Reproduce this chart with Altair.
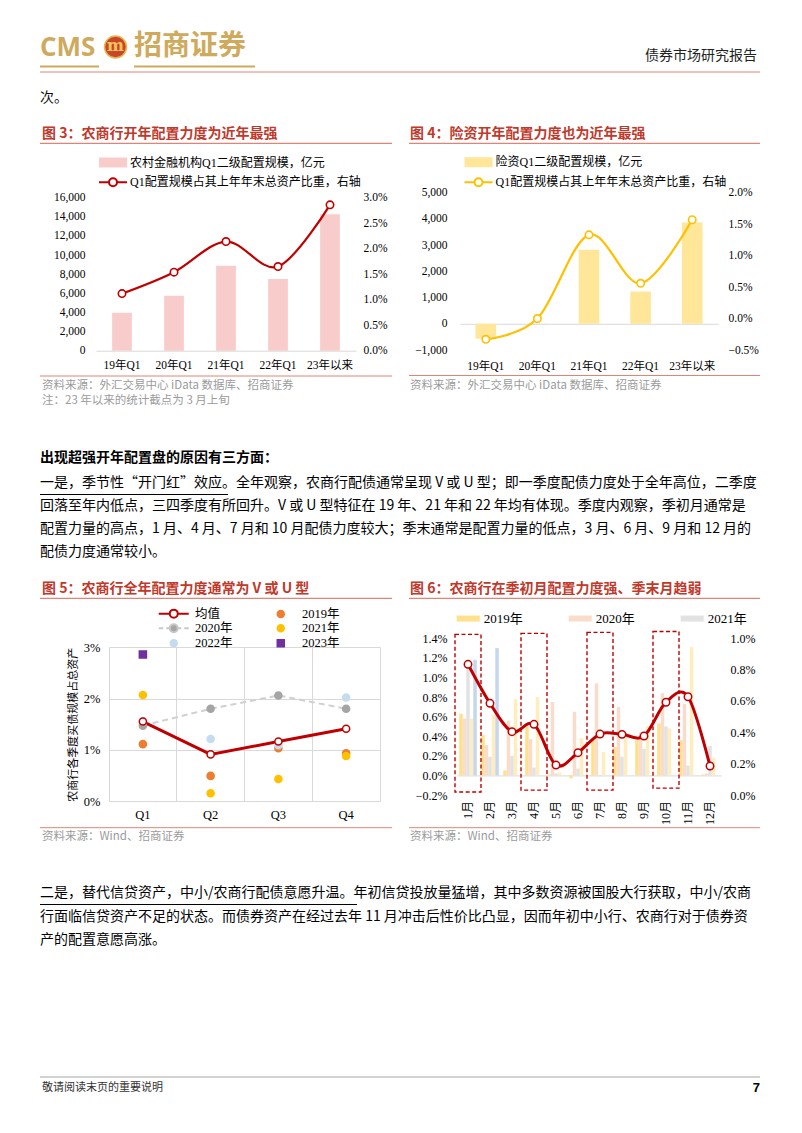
import altair as alt
import pandas as pd

# ---------------- data ----------------
c3_cats = ["19年Q1", "20年Q1", "21年Q1", "22年Q1", "23年以来"]
c3_amount = [3970, 5750, 8890, 7500, 14260]
c3_ratio_pct = [1.12, 1.54, 2.14, 1.65, 2.86]
c3_bar_name = "农村金融机构Q1二级配置规模，亿元"
c3_line_name = "Q1配置规模占其上年年末总资产比重，右轴"
c3_left_ticks = [0, 2000, 4000, 6000, 8000, 10000, 12000, 14000, 16000]
c3_right_ticks = [0.0, 0.005, 0.01, 0.015, 0.02, 0.025, 0.03]

c4_cats = ["19年Q1", "20年Q1", "21年Q1", "22年Q1", "23年以来"]
c4_amount = [-570, 10, 2820, 1230, 3860]
c4_ratio_pct = [-0.33, 0.0, 1.33, 0.56, 1.57]
c4_bar_name = "险资Q1二级配置规模，亿元"
c4_line_name = "Q1配置规模占其上年年末总资产比重，右轴"
c4_left_ticks = [-1000, 0, 1000, 2000, 3000, 4000, 5000]
c4_right_ticks = [-0.005, 0.0, 0.005, 0.01, 0.015, 0.02]

c5_quarters = ["Q1", "Q2", "Q3", "Q4"]
c5_series = ["均值", "2019年", "2020年", "2021年", "2022年", "2023年"]
c5_mean = [1.55, 0.91, 1.16, 1.41]
c5_2019 = [1.11, 0.49, 1.03, 0.93]
c5_2020 = [1.47, 1.80, 2.06, 1.80]
c5_2021 = [2.07, 0.15, 0.43, 0.88]
c5_2022 = [1.56, 1.21, 1.09, 2.02]
c5_2023 = [2.86, None, None, None]
c5_ticks = [0.0, 0.01, 0.02, 0.03]

c6_months = ["1月", "2月", "3月", "4月", "5月", "6月", "7月", "8月", "9月", "10月", "11月", "12月"]
c6_series = ["2019年", "2020年", "2021年", "2022年", "2023年"]
c6_2019 = [0.63, 0.41, 0.05, 0.50, 0.01, -0.03, 0.36, 0.29, 0.36, 0.53, 0.36, 0.01]
c6_2020 = [0.58, 0.31, 0.56, 0.37, 0.75, 0.65, 0.94, 0.70, 0.44, 0.84, 0.73, 0.02]
c6_2021 = [1.10, 0.19, 0.20, 0.08, 0.02, 0.07, -0.01, 0.19, 0.27, 0.50, 0.10, 0.30]
c6_2022 = [0.58, 0.62, 0.78, 0.80, 0.03, 0.38, 0.24, 0.39, 0.50, 0.48, 1.31, 0.18]
c6_2023 = [1.18, 1.30, None, None, None, None, None, None, None, None, None, None]
c6_avg = [0.834, 0.585, 0.404, 0.451, 0.191, 0.270, 0.389, 0.387, 0.376, 0.592, 0.627, 0.185]
c6_box_months = ["1月", "4月", "7月", "10月"]
c6_box_top = [1.44, 1.45, 1.46, 1.47]
c6_box_bottom = [-0.17, -0.15, -0.15, -0.13]
c6_left_ticks = [-0.002, 0.0, 0.002, 0.004, 0.006, 0.008, 0.01, 0.012, 0.014]
c6_right_ticks = [0.0, 0.002, 0.004, 0.006, 0.008, 0.01]

para1 = [
    "一是，季节性“开门红”效应。全年观察，农商行配债通常呈现 V 或 U 型；即一季度配债力度处于全年高位，二季度",
    "回落至年内低点，三四季度有所回升。V 或 U 型特征在 19 年、21 年和 22 年均有体现。季度内观察，季初月通常是",
    "配置力量的高点，1 月、4 月、7 月和 10 月配债力度较大；季末通常是配置力量的低点，3 月、6 月、9 月和 12 月的",
    "配债力度通常较小。",
]
para2 = [
    "二是，替代信贷资产，中小/农商行配债意愿升温。年初信贷投放量猛增，其中多数资源被国股大行获取，中小/农商",
    "行面临信贷资产不足的状态。而债券资产在经过去年 11 月冲击后性价比凸显，因而年初中小行、农商行对于债券资",
    "产的配置意愿高涨。",
]

# ---------------- layout helpers ----------------
W, H = 786, 1117
O = 8


def P(v):
    return v - O


SERIF = "Liberation Serif, Noto Sans CJK SC"
SANS = "Noto Sans CJK SC"
RED = "#C00000"
TRED = "#C0392B"
LRED = "#DE8577"
GTXT = "#9B9B9B"
GOLD = "#CFAA5C"
AXC = "#D9D9D9"

one = pd.DataFrame({"k": [0]})


def T(s, x, y, size=14, color="#111111", weight="normal", align="left", font=SANS):
    return alt.Chart(one).mark_text(
        text=s, fontSize=size, color=color, fontWeight=weight, align=align,
        baseline="middle", font=font
    ).encode(x=alt.value(P(x)), y=alt.value(P(y)))


def R(x1, x2, y, color, w=1.0):
    return alt.Chart(one).mark_rule(color=color, strokeWidth=w).encode(
        x=alt.value(P(x1)), x2=alt.value(P(x2)), y=alt.value(P(y)))


def ax(orient, pos, **kw):
    if orient == "left":
        off = -P(pos)
    elif orient == "right":
        off = P(pos) - W
    elif orient == "bottom":
        off = P(pos) - H
    else:
        off = -P(pos)
    base = dict(orient=orient, offset=off, title=None, ticks=False, tickSize=0,
                domain=False, grid=False, labelFont=SERIF, labelColor="#000000",
                labelFontSize=12)
    base.update(kw)
    return alt.Axis(**base)


def xband(domain, x0, x1, pi, po):
    return alt.Scale(type="band", domain=domain, range=[P(x0), P(x1)],
                     paddingInner=pi, paddingOuter=po)


def ylin(domain, y0, y1):
    return alt.Scale(type="linear", domain=domain, range=[P(y0), P(y1)], nice=False)


def leg(x, y, sym, **kw):
    base = dict(orient="none", legendX=P(x), legendY=P(y), title=None, symbolType=sym,
                symbolSize=100, labelFont=SERIF, labelFontSize=12, labelColor="#000000",
                labelLimit=600, labelOffset=11, padding=0)
    base.update(kw)
    return alt.Legend(**base)


BAR_SYM = "M-2.8,-1H2.8V1H-2.8Z"
LINE_SYM = "M-2.8,0H-0.8M0.8,0H2.8M0.8,0A0.8,0.8 0 1,1 -0.8,0A0.8,0.8 0 1,1 0.8,0"

layers = []

# ---------------- page header ----------------
layers += [
    T("CMS", 40, 48, size=26, color=GOLD, weight="bold", font="Open Sans"),
    alt.Chart(one).mark_circle(size=480, color="#C8472B", opacity=1, stroke="#E8B64C",
                               strokeWidth=1.5).encode(x=alt.value(P(115.5)), y=alt.value(P(47))),
    T("m", 115.5, 46, size=16, color="#F4C55A", weight="bold", align="center", font="DejaVu Serif"),
    T("招商证券", 134, 47, size=28, color=GOLD, weight="bold"),
    R(40, 99, 66.5, GOLD, 2),
    R(134, 255, 66.5, GOLD, 2),
    T("债券市场研究报告", 757, 56, size=14, color="#222222", align="right"),
    R(40, 760, 72, LRED, 1),
    T("次。", 40, 98, size=14),
]

# ---------------- figure 3 ----------------
layers += [
    T("图 3：农商行开年配置力度为近年最强", 42, 134, size=14, color=TRED, weight="bold"),
    R(40, 392, 143.3, LRED, 1.2),
    R(40, 392, 376, LRED, 1),
    T("资料来源：外汇交易中心 iData 数据库、招商证券", 42, 385.5, size=11.5, color=GTXT),
    T("注：23 年以来的统计截点为 3 月上旬", 42, 400.5, size=11.5, color=GTXT),
]
df3 = pd.DataFrame({"cat": c3_cats, "amt": c3_amount, "ratio": [v / 100 for v in c3_ratio_pct]})
df3["bar_s"] = c3_bar_name
df3["line_s"] = c3_line_name

bar3 = alt.Chart(df3).mark_bar().encode(
    x=alt.X("cat:N", sort=c3_cats, scale=xband(c3_cats, 96, 356, 0.62, 0.31),
            axis=ax("bottom", 350.7, domain=True, domainColor=AXC, labelPadding=9,
                    labelAngle=0, labelFontSize=11.5)),
    y=alt.Y("amt:Q", scale=ylin([0, 16000], 350.7, 197.7),
            axis=ax("left", 96, values=c3_left_ticks, format=",.0f", labelPadding=11,
                    labelFontSize=11.5)),
    fill=alt.Fill("bar_s:N", scale=alt.Scale(domain=[c3_bar_name], range=["#F9CCCC"]),
                  legend=leg(107, 156.5, BAR_SYM, symbolStrokeWidth=0)),
)
line3 = alt.Chart(df3).mark_line(
    interpolate="cardinal", strokeWidth=2.2,
    point=alt.OverlayMarkDef(filled=True, fill="white", size=55, strokeWidth=1.6)
).encode(
    x=alt.X("cat:N", sort=c3_cats, scale=xband(c3_cats, 96, 356, 0.62, 0.31), axis=None),
    y=alt.Y("ratio:Q", scale=ylin([0, 0.03], 350.7, 197.7),
            axis=ax("right", 356, values=c3_right_ticks, format=".1%", labelPadding=7,
                    labelFontSize=11.5)),
    stroke=alt.Stroke("line_s:N", scale=alt.Scale(domain=[c3_line_name], range=[RED]),
                      legend=leg(107, 176.2, LINE_SYM, symbolStrokeWidth=2,
                                 symbolFillColor="white")),
)
layers += [bar3, line3]

# ---------------- figure 4 ----------------
zero4 = 350 - (1000 / 6000) * (350 - 192.7)
layers += [
    T("图 4：险资开年配置力度也为近年最强", 410, 134, size=14, color=TRED, weight="bold"),
    R(409, 760, 143.3, LRED, 1.2),
    R(409, 760, 375.5, LRED, 1),
    T("资料来源：外汇交易中心 iData 数据库、招商证券", 410, 385.5, size=11.5, color=GTXT),
]
df4 = pd.DataFrame({"cat": c4_cats, "amt": c4_amount, "ratio": [v / 100 for v in c4_ratio_pct]})
df4["bar_s"] = c4_bar_name
df4["line_s"] = c4_line_name

bar4 = alt.Chart(df4).mark_bar().encode(
    x=alt.X("cat:N", sort=c4_cats, scale=xband(c4_cats, 460, 718, 0.6, 0.3),
            axis=ax("bottom", zero4, domain=True, domainColor=AXC,
                    labelPadding=366.7 - zero4 - 6.5, labelAngle=0, labelFontSize=11.5)),
    y=alt.Y("amt:Q", scale=ylin([-1000, 5000], 350, 192.7),
            axis=ax("left", 460, values=c4_left_ticks, format=",.0f", labelPadding=13,
                    labelFontSize=11.5)),
    fill=alt.Fill("bar_s:N", scale=alt.Scale(domain=[c4_bar_name], range=["#FFE699"]),
                  legend=leg(472.5, 156.2, BAR_SYM, symbolStrokeWidth=0)),
)
line4 = alt.Chart(df4).mark_line(
    interpolate="cardinal", strokeWidth=2.2,
    point=alt.OverlayMarkDef(filled=True, fill="white", size=55, strokeWidth=1.6)
).encode(
    x=alt.X("cat:N", sort=c4_cats, scale=xband(c4_cats, 460, 718, 0.6, 0.3), axis=None),
    y=alt.Y("ratio:Q", scale=ylin([-0.005, 0.02], 350, 192.7),
            axis=ax("right", 718, values=c4_right_ticks, format=".1%", labelPadding=10,
                    labelFontSize=11.5)),
    stroke=alt.Stroke("line_s:N", scale=alt.Scale(domain=[c4_line_name], range=["#FFC000"]),
                      legend=leg(472.5, 176.2, LINE_SYM, symbolStrokeWidth=2,
                                 symbolFillColor="white")),
)
layers += [bar4, line4]

# ---------------- body text 1 ----------------
layers += [T("出现超强开年配置盘的原因有三方面：", 40, 458, size=14, weight="bold", color="#000000")]
for i, s in enumerate(para1):
    layers.append(T(s, 40, 483 + i * 23, size=14, color="#000000"))
layers.append(R(40, 228, 494.5, "#000000", 1))

# ---------------- figure 5 ----------------
layers += [
    T("图 5：农商行全年配置力度通常为 V 或 U 型", 42, 589, size=14, color=TRED, weight="bold"),
    R(40, 392, 598.3, LRED, 1.2),
    R(40, 392, 827.7, LRED, 1),
    T("资料来源：Wind、招商证券", 42, 837, size=11.5, color=GTXT),
]
c5_values = {"均值": c5_mean, "2019年": c5_2019, "2020年": c5_2020,
             "2021年": c5_2021, "2022年": c5_2022, "2023年": c5_2023}
rows5 = []
for s in ["2019年", "2020年", "2021年", "2022年", "2023年", "均值"]:
    for q, v in zip(c5_quarters, c5_values[s]):
        if v is not None:
            rows5.append({"q": q, "series": s, "v": v / 100})
df5 = pd.DataFrame(rows5)
df5_2020 = df5[df5["series"] == "2020年"]
df5_mean = df5[df5["series"] == "均值"]

c5_fill = ["#FFFFFF", "#ED7D31", "#A5A5A5", "#FFC000", "#C5DCF0", "#7030A0"]
c5_stroke = [RED, "#ED7D31", "#A5A5A5", "#FFC000", "#C5DCF0", "#7030A0"]
c5_leg_stroke = [RED, "#ED7D31", "#C8C8C8", "#FFC000", "#C5DCF0", "#7030A0"]
DOT = "M0.65,0A0.65,0.65 0 1,1 -0.65,0A0.65,0.65 0 1,1 0.65,0"
c5_leg_shapes = [
    "M-3,0H-0.8M0.8,0H3M0.8,0A0.8,0.8 0 1,1 -0.8,0A0.8,0.8 0 1,1 0.8,0",
    DOT,
    "M-3,0H-2.1M-1.5,0H-0.8M0.8,0H1.5M2.1,0H3M0.8,0A0.8,0.8 0 1,1 -0.8,0A0.8,0.8 0 1,1 0.8,0",
    DOT,
    DOT,
    "M-0.65,-0.65H0.65V0.65H-0.65Z",
]


def x5():
    return xband(c5_quarters, 109, 380, 0, 0)


def y5():
    return ylin([0, 0.03], 801, 647.3)


l5a = alt.Chart(df5_2020).mark_line(color="#D0D0D0", strokeWidth=2, strokeDash=[6, 4]).encode(
    x=alt.X("q:N", sort=c5_quarters, scale=x5(),
            axis=ax("bottom", 801, labelPadding=7, labelAngle=0, labelFontSize=12.5)),
    y=alt.Y("v:Q", scale=y5(),
            axis=ax("left", 109, values=c5_ticks, format=".0%", grid=True, gridColor=AXC,
                    labelPadding=9, labelFontSize=12.5, title="农商行各季度买债规模占总资产",
                    titleFont=SERIF, titleFontSize=11, titleFontWeight="normal",
                    titleColor="#000000", titlePadding=5)),
)
l5b = alt.Chart(df5_mean).mark_line(color=RED, strokeWidth=3).encode(
    x=alt.X("q:N", sort=c5_quarters, scale=x5(),
            axis=ax("top", 647.3, grid=True, gridColor=AXC, labels=False, bandPosition=0)),
    y=alt.Y("v:Q", scale=y5(),
            axis=ax("right", 380, labels=False, domain=True, domainColor=AXC)),
)
l5c = alt.Chart(df5).mark_point(filled=True, size=50, strokeWidth=1.5, opacity=1).encode(
    x=alt.X("q:N", sort=c5_quarters, scale=x5(), axis=None),
    y=alt.Y("v:Q", scale=y5(), axis=None),
    fill=alt.Fill("series:N", scale=alt.Scale(domain=c5_series, range=c5_fill), legend=None),
    stroke=alt.Stroke("series:N", scale=alt.Scale(domain=c5_series, range=c5_stroke), legend=None),
    shape=alt.Shape("series:N", scale=alt.Scale(domain=c5_series,
                                                range=["circle"] * 5 + ["square"]), legend=None),
)
LEG5 = leg(167.5, 607.0, "circle", columns=2, direction="horizontal", columnPadding=40,
           rowPadding=-2.5, labelOffset=15, labelFontSize=12.5, symbolStrokeWidth=2,
           symbolOpacity=1)
l5d = alt.Chart(df5).mark_point(filled=True, opacity=0).encode(
    x=alt.X("q:N", sort=c5_quarters, scale=x5(), axis=None),
    y=alt.Y("v:Q", scale=y5(), axis=None),
    fill=alt.Fill("series:N", scale=alt.Scale(domain=c5_series, range=c5_fill), legend=LEG5),
    stroke=alt.Stroke("series:N", scale=alt.Scale(domain=c5_series, range=c5_leg_stroke),
                      legend=LEG5),
    shape=alt.Shape("series:N", scale=alt.Scale(domain=c5_series, range=c5_leg_shapes),
                    legend=LEG5),
)
layers += [l5a, l5b, l5c, l5d]

# ---------------- figure 6 ----------------
layers += [
    T("图 6：农商行在季初月配置力度强、季末月趋弱", 410, 589, size=14, color=TRED, weight="bold"),
    R(409, 760, 598.3, LRED, 1.2),
    R(409, 760, 827.7, LRED, 1),
    T("资料来源：Wind、招商证券", 410, 837, size=11.5, color=GTXT),
]
c6_values = {"2019年": c6_2019, "2020年": c6_2020, "2021年": c6_2021,
             "2022年": c6_2022, "2023年": c6_2023}
rows6 = []
for s in c6_series:
    for m, v in zip(c6_months, c6_values[s]):
        if v is not None:
            rows6.append({"month": m, "series": s, "v": v / 100})
df6 = pd.DataFrame(rows6)
df6_line = pd.DataFrame({"month": c6_months, "v": [v / 100 for v in c6_avg]})
df6_box = pd.DataFrame({"month": c6_box_months, "top": [v / 100 for v in c6_box_top],
                        "bottom": [v / 100 for v in c6_box_bottom]})
c6_colors = ["#FFE08C", "#FADCCB", "#E2E2E2", "#FFEDBD", "#C6D6EF"]
zero6 = 795 - (0.002 / 0.016) * (795 - 638.3)


def x6():
    return xband(c6_months, 457, 721, 0.2, 0.1)


def yl6():
    return ylin([-0.002, 0.014], 795, 638.3)


bars6 = alt.Chart(df6).mark_bar().encode(
    x=alt.X("month:N", sort=c6_months, scale=x6(),
            axis=ax("bottom", zero6, domain=True, domainColor=AXC, labelAngle=-90,
                    labelPadding=25, labelFontSize=12)),
    xOffset=alt.XOffset("series:N", scale=alt.Scale(domain=c6_series)),
    y=alt.Y("v:Q", scale=yl6(),
            axis=ax("left", 457, values=c6_left_ticks, format=".1%", labelPadding=10)),
    fill=alt.Fill("series:N", scale=alt.Scale(domain=c6_series, range=c6_colors),
                  legend=leg(461.7, 611.8, "M-2.3,-0.6H2.3V0.6H-2.3Z", direction="horizontal",
                             values=["2019年", "2020年", "2021年"], labelOffset=9,
                             columnPadding=45, labelFontSize=13, symbolStrokeWidth=0)),
)
box6 = alt.Chart(df6_box).mark_bar(width=26, fill="transparent", stroke=RED, strokeWidth=1.4,
                                   strokeDash=[4, 2.5]).encode(
    x=alt.X("month:N", sort=c6_months, scale=x6(), axis=None),
    y=alt.Y("top:Q", scale=yl6(), axis=None),
    y2="bottom:Q",
)
line6 = alt.Chart(df6_line).mark_line(
    interpolate="cardinal", color=RED, strokeWidth=3,
    point=alt.OverlayMarkDef(filled=True, fill="white", stroke=RED, size=55, strokeWidth=1.5)
).encode(
    x=alt.X("month:N", sort=c6_months, scale=x6(), axis=None),
    y=alt.Y("v:Q", scale=ylin([0, 0.01], 795, 638.3),
            axis=ax("right", 721, values=c6_right_ticks, format=".1%", labelPadding=9)),
)
layers += [bars6, box6, line6]

# ---------------- body text 2 + footer ----------------
for i, s in enumerate(para2):
    layers.append(T(s, 40, 893 + i * 23.5, size=14, color="#000000"))
layers.append(R(40, 357, 904.5, "#000000", 1))
layers += [
    R(40, 760, 1077, "#A6A6A6", 1),
    T("敬请阅读末页的重要说明", 42, 1088, size=11, color="#333333"),
    T("7", 760, 1088, size=13, color="#000000", weight="bold", align="right", font="Liberation Sans"),
]

chart = alt.layer(*layers).properties(
    width=W, height=H, padding=0, background="white",
    autosize=alt.AutoSizeParams(type="none"),
).resolve_scale(
    x="independent", y="independent", fill="independent", stroke="independent",
    shape="independent", xOffset="independent",
).resolve_axis(
    x="independent", y="independent",
).resolve_legend(
    fill="independent", stroke="independent", shape="independent",
).configure_view(stroke=None)

chart.save("out.html", embed_options={"renderer": "svg", "actions": False})
